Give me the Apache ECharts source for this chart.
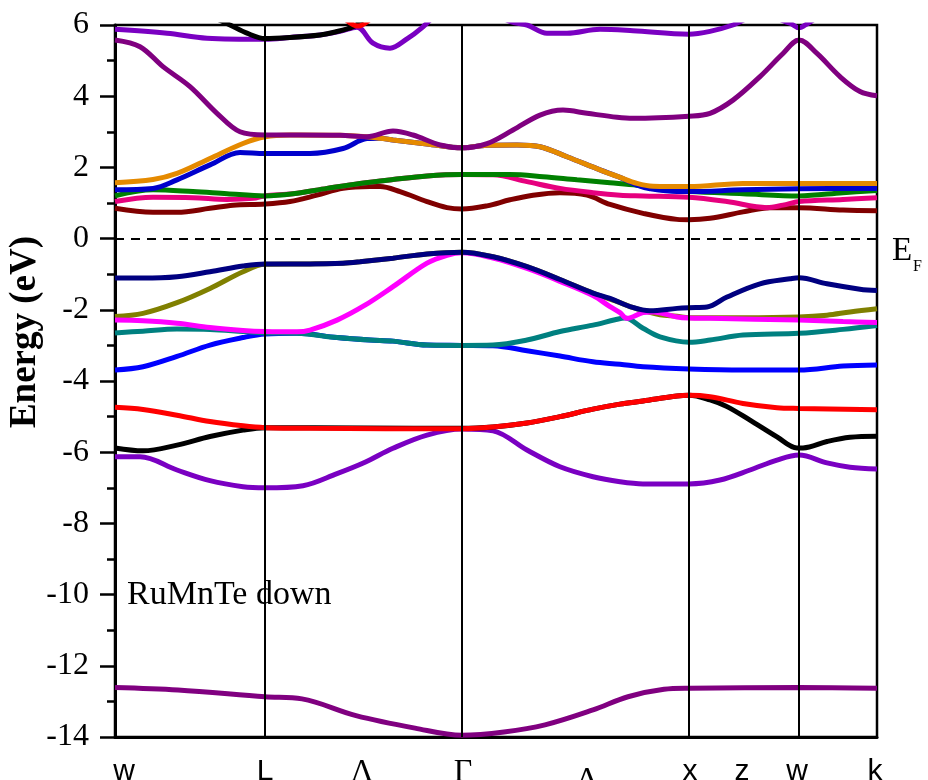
<!DOCTYPE html>
<html>
<head>
<meta charset="utf-8">
<script src="https://cdn.jsdelivr.net/npm/echarts@6/dist/echarts.min.js"></script>
<style>html,body{margin:0;padding:0;background:#fff;}#c{width:928px;height:780px;}</style>
</head>
<body>
<div id="c"></div>
<script>
// ---- k-path (x) ----
const kNodes = [0, 1.5, 3.47, 5.74, 6.84, 7.62];          // W, L, Γ, X, W, K
const kLabelNames = ['w', 'L', 'Λ', 'Γ', 'Δ', 'x', 'z', 'w', 'k'];
const kLabelPos = [0.09, 1.5, 2.47, 3.48, 4.72, 5.75, 6.27, 6.82, 7.6];
const yMin = -14, yMax = 6, yStep = 2;
const fermiLevel = 0;

// ---- bands (k, E in eV) ----
const bandCore = [[0,-12.61],[0.63,-12.68],[1.5,-12.87],[1.87,-12.93],[2.41,-13.4],[3.0,-13.75],[3.47,-13.95],[3.89,-13.86],[4.3,-13.66],[4.78,-13.24],[5.13,-12.87],[5.49,-12.66],[5.74,-12.63],[6.84,-12.61],[7.62,-12.63]];
const bandViolet = [[0,-6.13],[0.25,-6.13],[0.62,-6.5],[0.95,-6.8],[1.28,-6.97],[1.5,-7.0],[1.88,-6.94],[2.22,-6.6],[2.5,-6.28],[2.78,-5.89],[3.12,-5.52],[3.47,-5.35],[3.78,-5.4],[4.12,-5.94],[4.45,-6.41],[4.78,-6.69],[5.05,-6.83],[5.28,-6.89],[5.74,-6.89],[6.05,-6.78],[6.35,-6.5],[6.62,-6.22],[6.84,-6.08],[7.12,-6.3],[7.35,-6.42],[7.62,-6.47]];
const bandBlack = [[0,-5.88],[0.28,-5.96],[0.62,-5.8],[0.95,-5.56],[1.28,-5.38],[1.5,-5.31],[2.5,-5.32],[3.47,-5.33],[3.78,-5.29],[4.12,-5.18],[4.45,-5.0],[4.78,-4.79],[5.05,-4.65],[5.28,-4.56],[5.62,-4.42],[5.74,-4.4],[5.95,-4.53],[6.12,-4.72],[6.35,-5.1],[6.62,-5.57],[6.82,-5.88],[6.88,-5.88],[7.12,-5.7],[7.35,-5.58],[7.62,-5.55]];
const bandRed = [[0,-4.74],[0.28,-4.8],[0.62,-4.96],[0.95,-5.14],[1.28,-5.26],[1.5,-5.31],[1.95,-5.33],[3.47,-5.34],[3.78,-5.29],[4.12,-5.18],[4.45,-5.0],[4.78,-4.79],[5.05,-4.65],[5.28,-4.56],[5.62,-4.42],[5.74,-4.4],[5.95,-4.44],[6.28,-4.63],[6.62,-4.75],[6.84,-4.77],[7.62,-4.81]];
const bandBlueV = [[0,-3.69],[0.28,-3.6],[0.62,-3.31],[0.95,-2.99],[1.28,-2.78],[1.5,-2.68],[1.82,-2.66],[2.22,-2.78],[2.55,-2.85],[2.78,-2.88],[3.12,-2.99],[3.47,-3.0],[3.78,-3.01],[4.12,-3.15],[4.45,-3.3],[4.78,-3.46],[5.05,-3.53],[5.28,-3.6],[5.74,-3.66],[6.28,-3.69],[6.84,-3.69],[7.28,-3.58],[7.62,-3.55]];
const bandTeal = [[0,-2.65],[0.28,-2.6],[0.62,-2.54],[0.95,-2.55],[1.28,-2.61],[1.5,-2.65],[1.82,-2.66],[2.22,-2.78],[2.55,-2.85],[2.78,-2.88],[3.12,-2.99],[3.47,-3.0],[3.78,-2.99],[4.12,-2.85],[4.45,-2.61],[4.78,-2.43],[5.0,-2.28],[5.1,-2.23],[5.28,-2.52],[5.45,-2.76],[5.74,-2.91],[5.95,-2.85],[6.28,-2.71],[6.84,-2.66],[7.28,-2.55],[7.62,-2.44]];
const bandOlive = [[0,-2.19],[0.28,-2.1],[0.62,-1.8],[0.95,-1.4],[1.28,-0.93],[1.5,-0.72],[1.95,-0.71],[2.28,-0.69],[2.45,-0.65],[2.78,-0.55],[3.12,-0.43],[3.47,-0.38],[3.78,-0.51],[4.12,-0.79],[4.45,-1.15],[4.78,-1.53],[5.05,-1.8],[5.15,-1.91],[5.33,-2.06],[5.45,-2.14],[5.62,-2.18],[5.74,-2.22],[6.28,-2.22],[6.84,-2.2],[7.12,-2.15],[7.35,-2.06],[7.62,-1.97]];
const bandMagenta = [[0,-2.29],[0.28,-2.31],[0.62,-2.38],[0.95,-2.5],[1.28,-2.58],[1.5,-2.61],[1.82,-2.62],[1.95,-2.57],[2.22,-2.29],[2.5,-1.87],[2.78,-1.35],[3.12,-0.69],[3.32,-0.47],[3.47,-0.4],[3.78,-0.55],[4.12,-0.84],[4.45,-1.2],[4.78,-1.6],[4.95,-1.91],[5.05,-2.08],[5.12,-2.24],[5.28,-2.08],[5.38,-2.06],[5.62,-2.2],[5.74,-2.23],[5.95,-2.24],[6.84,-2.29],[7.28,-2.33],[7.62,-2.36]];
const bandNavy = [[0,-1.11],[0.28,-1.11],[0.62,-1.07],[0.95,-0.93],[1.28,-0.77],[1.5,-0.71],[1.95,-0.71],[2.28,-0.69],[2.45,-0.65],[2.78,-0.55],[3.12,-0.43],[3.47,-0.38],[3.78,-0.51],[4.12,-0.79],[4.45,-1.15],[4.78,-1.53],[4.95,-1.68],[5.15,-1.91],[5.35,-2.03],[5.62,-1.96],[5.74,-1.94],[5.92,-1.92],[6.12,-1.64],[6.45,-1.27],[6.75,-1.13],[6.84,-1.1],[7.12,-1.27],[7.45,-1.42],[7.62,-1.46]];
const bandWine = [[0,0.85],[0.38,0.74],[0.62,0.74],[0.95,0.85],[1.18,0.94],[1.5,0.97],[1.75,1.04],[2.02,1.22],[2.28,1.41],[2.55,1.46],[2.65,1.46],[2.85,1.32],[3.12,1.04],[3.32,0.87],[3.47,0.83],[3.72,0.92],[3.95,1.09],[4.18,1.22],[4.45,1.29],[4.72,1.22],[4.95,0.96],[5.28,0.71],[5.62,0.54],[5.74,0.53],[5.95,0.57],[6.28,0.75],[6.55,0.87],[6.84,0.87],[7.28,0.8],[7.62,0.78]];
const bandPink = [[0,1.04],[0.38,1.16],[0.78,1.15],[1.12,1.1],[1.38,1.13],[1.5,1.2],[1.78,1.26],[2.12,1.41],[2.45,1.55],[2.78,1.66],[3.12,1.76],[3.47,1.8],[3.78,1.79],[4.12,1.6],[4.45,1.41],[4.78,1.29],[5.05,1.22],[5.28,1.2],[5.74,1.16],[6.12,1.04],[6.52,0.87],[6.68,0.94],[6.84,1.04],[7.28,1.1],[7.62,1.15]];
const bandGreen = [[0,1.2],[0.38,1.37],[0.78,1.32],[1.12,1.26],[1.5,1.2],[1.78,1.26],[2.12,1.41],[2.45,1.55],[2.78,1.66],[3.12,1.76],[3.47,1.8],[3.95,1.8],[4.28,1.74],[4.62,1.65],[4.95,1.57],[5.22,1.5],[5.45,1.38],[5.74,1.32],[6.28,1.26],[6.84,1.2],[7.28,1.29],[7.62,1.35]];
const bandBlueC = [[0,1.37],[0.38,1.41],[0.62,1.65],[0.95,2.07],[1.25,2.42],[1.5,2.39],[1.95,2.39],[2.28,2.53],[2.52,2.81],[2.65,2.82],[2.78,2.77],[3.12,2.66],[3.47,2.55],[3.72,2.62],[4.02,2.63],[4.25,2.58],[4.52,2.3],[4.85,1.93],[5.05,1.72],[5.22,1.5],[5.35,1.4],[5.62,1.32],[5.74,1.32],[6.28,1.37],[6.84,1.4],[7.62,1.41]];
const bandOrange = [[0,1.57],[0.38,1.66],[0.62,1.83],[0.95,2.25],[1.28,2.67],[1.5,2.86],[1.75,2.91],[2.25,2.9],[2.52,2.86],[2.65,2.82],[2.78,2.77],[3.12,2.66],[3.47,2.55],[3.72,2.62],[4.02,2.63],[4.25,2.58],[4.52,2.3],[4.85,1.93],[5.05,1.72],[5.22,1.55],[5.38,1.47],[5.74,1.46],[6.28,1.55],[6.84,1.55],[7.62,1.55]];
const bandPurple = [[0,5.58],[0.25,5.39],[0.48,4.83],[0.75,4.27],[1.02,3.52],[1.25,3.0],[1.5,2.91],[1.85,2.91],[2.25,2.9],[2.52,2.86],[2.78,3.02],[2.98,2.91],[3.25,2.63],[3.47,2.55],[3.72,2.67],[3.98,3.05],[4.25,3.47],[4.48,3.61],[4.72,3.52],[5.02,3.41],[5.18,3.38],[5.74,3.44],[5.95,3.52],[6.18,3.89],[6.45,4.55],[6.68,5.2],[6.84,5.58],[7.02,5.2],[7.25,4.55],[7.45,4.13],[7.62,4.01]];
const bandVioletTop = [[0,5.88],[0.52,5.77],[0.92,5.63],[1.5,5.6],[1.75,5.65],[2.05,5.72],[2.25,5.82],[2.42,5.94],[2.58,5.49],[2.75,5.35],[2.92,5.61],[3.08,5.95],[3.25,6.4],[3.47,6.8],[3.75,6.4],[3.95,6.1],[4.12,6.0],[4.32,5.77],[4.52,5.77],[4.85,5.88],[5.18,5.84],[5.74,5.74],[5.95,5.82],[6.18,6.0],[6.45,6.3],[6.75,6.05],[6.84,5.92],[6.93,6.05],[7.15,6.4],[7.62,6.6]];
const bandBlackTop = [[0.92,6.3],[1.15,6.0],[1.32,5.77],[1.5,5.62],[1.75,5.65],[2.05,5.72],[2.18,5.79],[2.38,5.95],[2.5,6.2]];
const bandRedTop = [[2.25,6.3],[2.43,5.97],[2.6,6.3]];

const bandSeries = [
  ['core', '#800080', bandCore],
  ['violet', '#7A00C2', bandViolet],
  ['black', '#000000', bandBlack],
  ['red', '#FF0000', bandRed],
  ['blueV', '#0000FF', bandBlueV],
  ['teal', '#008080', bandTeal],
  ['olive', '#808000', bandOlive],
  ['magenta', '#FF00FF', bandMagenta],
  ['navy', '#000080', bandNavy],
  ['wine', '#800000', bandWine],
  ['pink', '#E6007E', bandPink],
  ['green', '#008000', bandGreen],
  ['blueC', '#0000CC', bandBlueC],
  ['orange', '#E58A00', bandOrange],
  ['purple', '#800080', bandPurple],
  ['violetTop', '#7A00C2', bandVioletTop],
  ['blackTop', '#000000', bandBlackTop],
  ['redTop', '#FF0000', bandRedTop]
];

const SERIF = "'Liberation Serif', 'Times New Roman', serif";
const SANS = "'Liberation Sans', Arial, sans-serif";

const chart = echarts.init(document.getElementById('c'), null, {renderer: 'canvas'});

const series = bandSeries.map(([name, color, data]) => ({
  name, type: 'line', data, smooth: 0.35, showSymbol: false, symbol: 'none',
  clip: true, lineStyle: {color, width: 5}, z: 2, silent: true
}));

series.push({
  name: 'guides', type: 'line', data: [], z: 5, silent: true,
  markLine: {
    silent: true, symbol: ['none', 'none'], label: {show: false}, animation: false,
    data: kNodes.slice(1, kNodes.length - 1).map(v => ({xAxis: v, lineStyle: {color: '#000', width: 2, type: 'solid'}}))
      .concat([{yAxis: fermiLevel, lineStyle: {color: '#000', width: 2, type: [9, 7]}}])
  }
});

const option = {
  animation: false,
  backgroundColor: '#fff',
  grid: {left: 115, right: 51, top: 25, bottom: 43, show: true, borderColor: '#000', borderWidth: 2.5,
    backgroundColor: 'transparent', containLabel: false, outerBoundsMode: 'none'},
  xAxis: {
    type: 'value', min: kNodes[0], max: kNodes[kNodes.length - 1],
    axisLine: {show: true, onZero: false, lineStyle: {color: '#000', width: 3}},
    axisTick: {show: false},
    splitLine: {show: false},
    axisLabel: {
      show: true, customValues: kLabelPos, margin: 20, color: '#000',
      formatter: (v) => {
        let idx = 0, best = Infinity;
        kLabelPos.forEach((p, i) => { const d = Math.abs(p - v); if (d < best) { best = d; idx = i; } });
        const n = kLabelNames[idx];
        if (n === 'Δ') return '{d|' + n + '}';
        if (n === 'Λ' || n === 'Γ') return '{g|' + n + '}';
        return '{s|' + n + '}';
      },
      rich: {
        s: {fontFamily: SANS, fontSize: 30, color: '#000'},
        g: {fontFamily: SERIF, fontSize: 32, color: '#000'},
        d: {fontFamily: SERIF, fontSize: 32, color: '#000', padding: [8, 0, 0, 0]}
      }
    }
  },
  yAxis: {
    type: 'value', min: yMin, max: yMax, interval: yStep,
    axisLine: {show: true, onZero: false, lineStyle: {color: '#000', width: 3}},
    axisTick: {show: true, length: 15, lineStyle: {color: '#000', width: 2.5}},
    minorTick: {show: true, splitNumber: 2, length: 8, lineStyle: {color: '#000', width: 2.5}},
    splitLine: {show: false},
    axisLabel: {fontFamily: SERIF, fontSize: 32, color: '#000', margin: 26}
  },
  graphic: [
    {type: 'text', left: 127, top: 578, style: {text: 'RuMnTe down', font: "34px " + SERIF, fill: '#000'}},
    {type: 'text', left: 892, top: 235, style: {text: 'E', font: "33px " + SERIF, fill: '#000'}},
    {type: 'text', left: 913, top: 259, style: {text: 'F', font: "16px " + SERIF, fill: '#000'}},
    {type: 'text', x: 25, y: 332, rotation: Math.PI / 2,
      style: {text: 'Energy (eV)', font: "bold 37px " + SERIF, fill: '#000', align: 'center', verticalAlign: 'middle'}}
  ],
  series
};
chart.setOption(option);
</script>
</body>
</html>
